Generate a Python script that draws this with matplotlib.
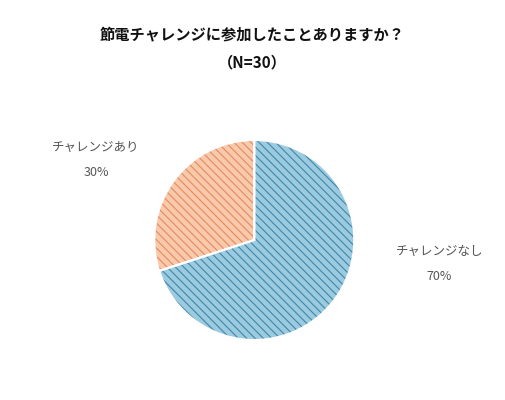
import matplotlib
matplotlib.use("Agg")
import matplotlib.pyplot as plt

plt.rcParams['font.family'] = ['Noto Sans CJK JP', 'DejaVu Sans']
plt.rcParams['hatch.linewidth'] = 0.8

labels = ["チャレンジなし", "チャレンジあり"]
values = [70, 30]
faces = ["#9ccbe0", "#f9c9ac"]
hatch_colors = ["#3f86aa", "#e58a5c"]

fig = plt.figure(figsize=(5.05, 4.0), dpi=100)
ax = fig.add_axes([0.256, 0.0875, 0.495, 0.625])
wedges, _ = ax.pie(values, startangle=90, counterclock=False, colors=faces)
for w, hc in zip(wedges, hatch_colors):
    w.set_hatch("\\\\\\\\")
    w.set_edgecolor(hc)
    w.set_linewidth(0)
# white borders on top
ax.pie(values, startangle=90, counterclock=False, colors=["none", "none"],
       wedgeprops=dict(edgecolor="white", linewidth=1.5, fill=False))
ax.set_aspect("equal")

fig.text(0.5, 0.915, "節電チャレンジに参加したことありますか？", ha="center", va="center",
         fontsize=11, fontweight="bold", color="#111111")
fig.text(0.5, 0.845, "（N=30）", ha="center", va="center",
         fontsize=11, fontweight="bold", color="#111111")

fig.text(0.87, 0.34, f"{labels[0]}\n\n{values[0]}%", ha="center", va="center",
         fontsize=9, color="#555555", linespacing=1.0)
fig.text(0.19, 0.6, f"{labels[1]}\n\n{values[1]}%", ha="center", va="center",
         fontsize=9, color="#555555", linespacing=1.0)

fig.savefig("out.png", dpi=100, facecolor="white")
